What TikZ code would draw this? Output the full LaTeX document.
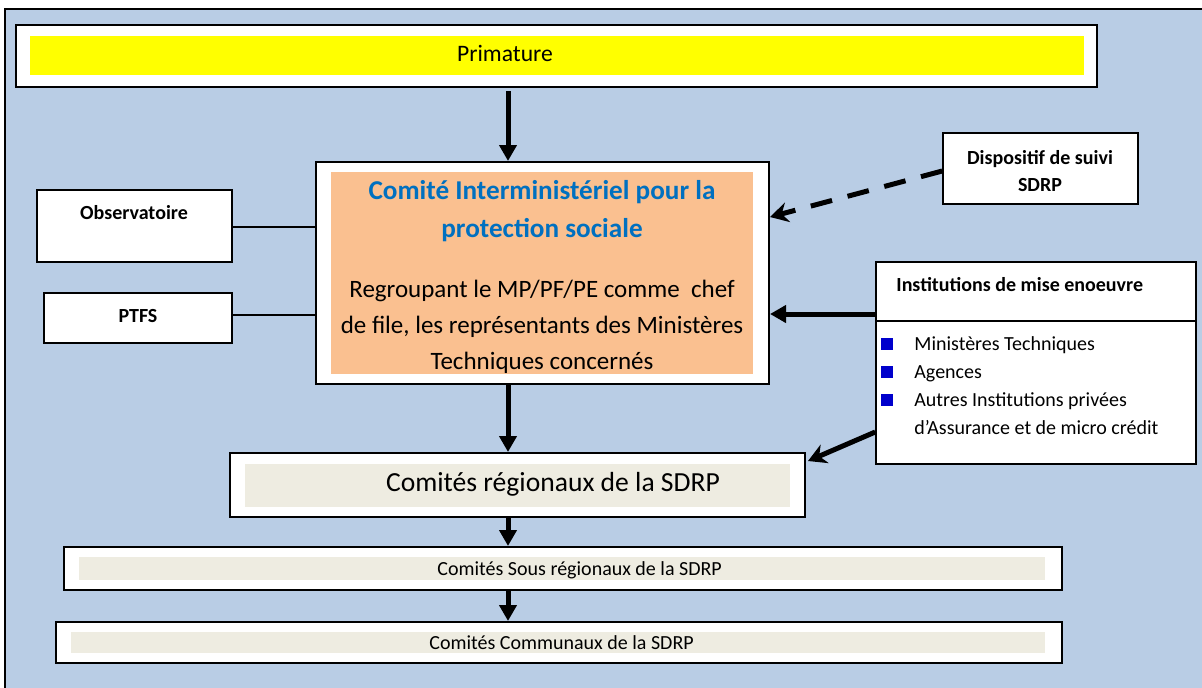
\documentclass[tikz,border=0pt]{standalone}
\usepackage{fontspec}
\setmainfont{Carlito}
\usetikzlibrary{arrows.meta,fit}
\definecolor{bgblue}{HTML}{B9CDE5}
\definecolor{yel}{HTML}{FFFF00}
\definecolor{orng}{HTML}{FAC090}
\definecolor{beige}{HTML}{EEECE1}
\definecolor{titleblue}{HTML}{0070C0}
\definecolor{bulletblue}{HTML}{0000CC}
\begin{document}
\begin{tikzpicture}[x=0.5pt,y=-0.5pt,
  mainbox/.style={draw=black,fill=white,line width=1pt,inner sep=0pt},
  smallbox/.style={draw=black,fill=white,line width=0.8pt,inner sep=0pt},
  innerfill/.style={draw=none,inner sep=0pt},
  lbl/.style={inner sep=0pt,anchor=mid},
  arr/.style={line width=2.5pt,-{Triangle[length=8pt,width=8.5pt]}},
  darr/.style={line width=2.5pt,dash pattern=on 11pt off 8pt,-{Stealth[length=9pt,width=10pt]}},
  thinline/.style={line width=0.8pt},
  bullet/.style={fill=bulletblue,draw=none,inner sep=0pt,minimum size=6pt}
]
\useasboundingbox (0,0) rectangle (1202,687);
\fill[white] (0,0) rectangle (1202,687);
\draw[fill=bgblue,line width=0.6pt] (5,9) rectangle (1215,700);

% Primature
\node[mainbox,fit={(16,25)(1097,87)}] (prim) {};
\node[innerfill,fill=yel,fit={(30,36)(1084,75)}] (primin) {};
\node[lbl,font=\fontsize{11.8}{14}\selectfont] (primtxt) at (505,57) {Primature};

% Comite interministeriel
\node[mainbox,fit={(316,162)(769,384)}] (comite) {};
\node[innerfill,fill=orng,fit={(331,172)(753,374)}] (comitein) {};
\node[inner sep=0pt,align=center,text=titleblue,font=\fontsize{13.6}{19}\selectfont\bfseries] (comtitle) at (542,211) {Comité Interministériel pour la\\protection sociale};
\node[inner sep=0pt,align=center,font=\fontsize{12.5}{18}\selectfont] (combody) at (542,327) {Regroupant le MP/PF/PE comme\ \ chef\\de file, les représentants des Ministères\\Techniques concernés};

% Observatoire, PTFS
\node[smallbox,fit={(37,190)(232,262)}] (obs) {};
\node[lbl,font=\fontsize{10}{12}\selectfont\bfseries] (obstxt) at (134,215) {Observatoire};
\node[smallbox,fit={(44,293)(232,343)}] (ptfs) {};
\node[lbl,font=\fontsize{10}{12}\selectfont\bfseries] (ptfstxt) at (138,318) {PTFS};

% Dispositif
\node[smallbox,fit={(943,133)(1138,204)}] (disp) {};
\node[inner sep=0pt,align=center,font=\fontsize{10}{13.5}\selectfont\bfseries] (disptxt) at (1040,171) {Dispositif de suivi\\SDRP};

% Institutions
\node[smallbox,fit={(876,262)(1196,464)}] (inst) {};
\coordinate (ydiv) at (0,321);
\draw[thinline] (inst.west |- ydiv) -- (inst.east |- ydiv);
\node[lbl,anchor=mid west,font=\fontsize{10}{12}\selectfont\bfseries] (insthead) at (896,287) {Institutions de mise enoeuvre};
\node[bullet] (b1) at (887,344) {};
\node[bullet] (b2) at (887,372) {};
\node[bullet] (b3) at (887,400) {};
\node[lbl,anchor=mid west,font=\fontsize{10}{12}\selectfont] (i1) at (914,346) {Ministères Techniques};
\node[lbl,anchor=mid west,font=\fontsize{10}{12}\selectfont] (i2) at (914,374) {Agences};
\node[lbl,anchor=mid west,font=\fontsize{10}{12}\selectfont] (i3) at (914,402) {Autres Institutions privées};
\node[lbl,anchor=mid west,font=\fontsize{10}{12}\selectfont] (i4) at (914,430) {d’Assurance et de micro crédit};

% Regional levels
\node[mainbox,fit={(230,453)(805,517)}] (reg) {};
\node[innerfill,fill=beige,fit={(245,464)(790,507)}] (regin) {};
\node[lbl,font=\fontsize{13.8}{16}\selectfont] (regtxt) at (553,487) {Comités régionaux de la SDRP};

\node[mainbox,fit={(64,547)(1062,590)}] (sous) {};
\node[innerfill,fill=beige,fit={(79,557)(1045,580)}] (sousin) {};
\node[lbl,anchor=mid west,font=\fontsize{10}{12}\selectfont] (soustxt) at (437,571) {Comités Sous régionaux de la SDRP};

\node[mainbox,fit={(56,622)(1062,663)}] (comm) {};
\node[innerfill,fill=beige,fit={(71,632)(1045,653)}] (commin) {};
\node[lbl,anchor=mid west,font=\fontsize{10}{12}\selectfont] (commtxt) at (429,645) {Comités Communaux de la SDRP};

% Connectors
\coordinate (p1) at (508,91);
\draw[arr] (p1) -- (p1 |- comite.north);
\draw[arr] (comite.south -| p1) -- (reg.north -| p1);
\draw[arr] (reg.south -| p1) -- (sous.north -| p1);
\draw[arr] (sous.south -| p1) -- (comm.north -| p1);

\coordinate (yobs) at (0,227);
\coordinate (yptfs) at (0,315);
\draw[thinline] (obs.east |- yobs) -- (comite.west |- yobs);
\draw[thinline] (ptfs.east |- yptfs) -- (comite.west |- yptfs);

\coordinate (yd1) at (0,171);
\coordinate (yd2) at (0,217);
\draw[darr] (disp.west |- yd1) -- (comite.east |- yd2);

\coordinate (yi1) at (0,314);
\draw[arr] (inst.west |- yi1) -- (comite.east |- yi1);
\coordinate (yi2) at (0,432);
\draw[line width=2.5pt,-{Stealth[length=9pt,width=10pt]}] (inst.west |- yi2) -- ([shift={(2,9)}]reg.north east);
\end{tikzpicture}
\end{document}
